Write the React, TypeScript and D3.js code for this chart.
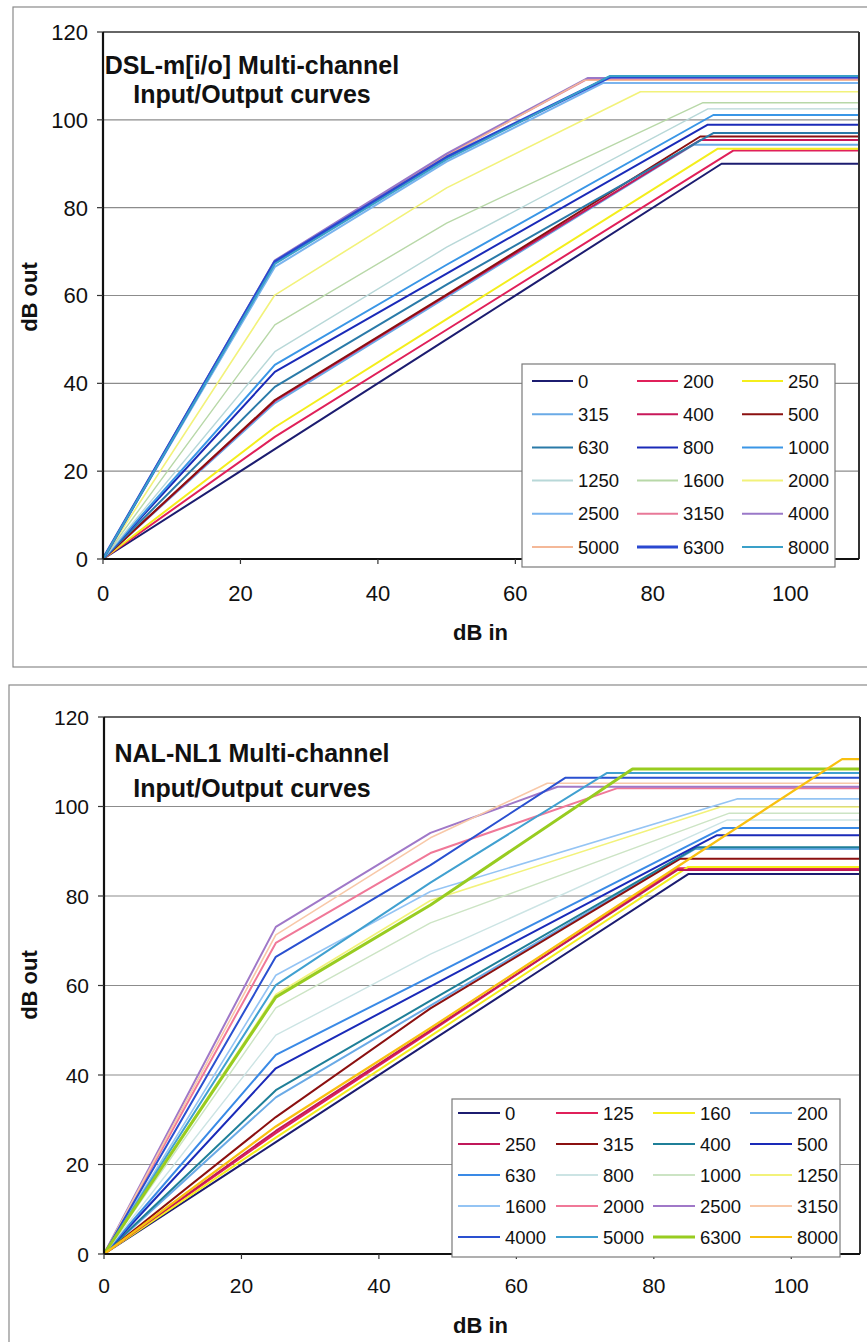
import React from 'react';
import * as d3 from 'd3';

// ---------- shared axis data ----------
const X_TICKS = [0, 20, 40, 60, 80, 100];
const Y_TICKS = [0, 20, 40, 60, 80, 100, 120];
const X_MAX = 110;
const Y_MAX = 120;

// ---------- DSL-m[i/o] ----------
const DSL_FREQS = ['0', '200', '250', '315', '400', '500', '630', '800', '1000', '1250', '1600', '2000', '2500', '3150', '4000', '5000', '6300', '8000'];
const DSL_KNEE_IN = 25;
const DSL_KNEE_OUT = [25, 27.8, 30, 35.5, 36, 36.2, 39.2, 42.6, 44.2, 47.2, 53.3, 60.1, 66.5, 67.8, 68, 67.5, 67.7, 67.2];
const DSL_MID_IN = 50;
const DSL_MID_OUT = [50, 52.2, 54.6, 59.6, 60, 60.2, 62.5, 65, 67, 71, 76.5, 84.5, 90.5, 92, 92.3, 91.8, 91.5, 91];
const DSL_SAT_IN = [90, 91.7, 89.4, 85.9, 86.9, 86.9, 88.8, 88, 88.8, 88, 87.3, 78.2, 72.8, 70.5, 70.5, 70, 73.8, 73.8];
const DSL_SAT_OUT = [90, 93.0, 93.4, 94.3, 95.4, 96.2, 97.0, 98.9, 101.1, 102.5, 103.9, 106.4, 108.4, 109.3, 109.5, 109.0, 109.8, 110.0];
const DSL_COLORS = ['#1c1c70', '#e0205a', '#f4ee1c', '#6aaae6', '#c8185a', '#8b1010', '#2a7aa8', '#1a2ab8', '#3a96e6', '#b8d8d8', '#b8d8a8', '#f2f27a', '#7ab4ee', '#e87898', '#9a78c8', '#f4b898', '#2a48d0', '#3aa0c8'];
const DSL_WIDTHS = [2, 2, 2, 2, 2, 2, 2, 2, 2, 1.4, 1.4, 1.6, 2, 2, 2, 1.5, 3, 2];

// ---------- NAL-NL1 ----------
const NAL_FREQS = ['0', '125', '160', '200', '250', '315', '400', '500', '630', '800', '1000', '1250', '1600', '2000', '2500', '3150', '4000', '5000', '6300', '8000'];
const NAL_KNEE_IN = 25;
const NAL_KNEE_OUT = [25, 27, 26, 35, 27.5, 30.6, 36.6, 41.5, 44.5, 48.9, 55, 58, 62.3, 69.5, 73.1, 71.3, 66.4, 60.1, 57.4, 28.5];
const NAL_MID_IN = 47.5;
const NAL_MID_OUT = [47.5, 49.7, 48.7, 55.5, 50, 54.9, 56.6, 59.8, 62, 67, 74, 79, 81, 89.6, 94.1, 93, 86.9, 83, 78, 50.5];
const NAL_SAT_IN = [85, 83.4, 85, 86, 83.4, 83.8, 86.3, 89.2, 90.1, 90.7, 91, 89.7, 92.1, 74.7, 66, 64.5, 67.1, 73.2, 76.9, 107.4];
const NAL_SAT_OUT = [84.9, 86.2, 86.5, 90.5, 85.8, 88.3, 90.9, 93.6, 95.2, 97, 98.5, 99.9, 101.7, 104.1, 104.4, 105.2, 106.4, 107.5, 108.4, 110.6];
const NAL_COLORS = ['#1c1c70', '#e0205a', '#f4ee1c', '#6aaae6', '#c0185a', '#8b1010', '#1f7f98', '#1a2ab8', '#3a8ae6', '#cce4e4', '#cce4c4', '#f2f27a', '#94c4f4', '#f07898', '#a078c8', '#f8c8a8', '#2a50d0', '#40a0d0', '#98cc20', '#f8c010'];
const NAL_WIDTHS = [2, 2, 2, 2, 2, 2, 2, 2, 2, 1.4, 1.4, 1.6, 1.6, 2, 2, 1.6, 2, 2, 3, 2.2];

const FONT = '"Liberation Sans", Arial, Helvetica, sans-serif';

type Cfg = {
  frame: [number, number, number, number];
  x0: number; x1: number; y0: number; y1: number;
  freqs: string[]; kneeIn: number; kneeOut: number[]; midIn: number; midOut: number[];
  satIn: number[]; satOut: number[]; colors: string[]; widths: number[];
  title1: string; title2: string; titleX: number; t1y: number; t2y: number;
  tickFont: number; xLabelY: number; xTitleY: number; yTitleY: number;
  legend: { x: number; y: number; w: number; h: number; cols: number; colX: number[]; row0: number; rowStep: number; lineLen: number; textOff: number };
};

function Chart({ c }: { c: Cfg }) {
  const x = d3.scaleLinear().domain([0, X_MAX]).range([c.x0, c.x1]);
  const y = d3.scaleLinear().domain([0, Y_MAX]).range([c.y0, c.y1]);
  const line = d3.line<[number, number]>().x(d => x(d[0])).y(d => y(d[1]));
  const series = c.freqs.map((f, i) => ({
    f,
    pts: [[0, 0], [c.kneeIn, c.kneeOut[i]], [c.midIn, c.midOut[i]], [c.satIn[i], c.satOut[i]], [X_MAX, c.satOut[i]]] as [number, number][],
  }));
  const L = c.legend;
  return (
    <g>
      <rect x={c.frame[0]} y={c.frame[1]} width={c.frame[2]} height={c.frame[3]} fill="none" stroke="#8a8a8a" strokeWidth={1.2} />
      {Y_TICKS.filter(t => t > 0 && t < Y_MAX).map(t => (
        <line key={'g' + t} x1={c.x0} x2={c.x1} y1={y(t)} y2={y(t)} stroke="#8c8c8c" strokeWidth={1.2} />
      ))}
      {series.map((s, i) => (
        <path key={s.f} d={line(s.pts) || ''} fill="none" stroke={c.colors[i]} strokeWidth={c.widths[i]} strokeLinejoin="round" />
      ))}
      <line x1={c.x0} x2={c.x1} y1={c.y1} y2={c.y1} stroke="#333" strokeWidth={1.6} />
      <line x1={c.x1} x2={c.x1} y1={c.y1} y2={c.y0} stroke="#333" strokeWidth={2} />
      <line x1={c.x0} x2={c.x0} y1={c.y1} y2={c.y0} stroke="#111" strokeWidth={2.2} />
      <line x1={c.x0} x2={c.x1} y1={c.y0} y2={c.y0} stroke="#111" strokeWidth={2.2} />
      {Y_TICKS.map(t => (
        <g key={'y' + t}>
          <line x1={c.x0 - 6} x2={c.x0} y1={y(t)} y2={y(t)} stroke="#333" strokeWidth={1.2} />
          <text x={c.x0 - 15} y={y(t)} dy="0.36em" textAnchor="end" fontFamily={FONT} fontSize={c.tickFont} fill="#111">{t}</text>
        </g>
      ))}
      {X_TICKS.map(t => (
        <g key={'x' + t}>
          <line x1={x(t)} x2={x(t)} y1={c.y0} y2={c.y0 + 5} stroke="#333" strokeWidth={1.2} />
          <text x={x(t)} y={c.xLabelY} textAnchor="middle" fontFamily={FONT} fontSize={c.tickFont} fill="#111">{t}</text>
        </g>
      ))}
      <text x={453} y={c.xTitleY} fontFamily={FONT} fontWeight="bold" fontSize={22} fill="#111">dB in</text>
      <text transform={`translate(37,${c.yTitleY}) rotate(-90)`} textAnchor="middle" fontFamily={FONT} fontWeight="bold" fontSize={22} fill="#111">dB out</text>
      <text x={c.titleX} y={c.t1y} textAnchor="middle" fontFamily={FONT} fontWeight="bold" fontSize={25} fill="#111">{c.title1}</text>
      <text x={c.titleX} y={c.t2y} textAnchor="middle" fontFamily={FONT} fontWeight="bold" fontSize={25} fill="#111">{c.title2}</text>
      <rect x={L.x} y={L.y} width={L.w} height={L.h} fill="#fff" stroke="#7a7a7a" strokeWidth={1.2} />
      {series.map((s, i) => {
        const col = i % L.cols;
        const row = Math.floor(i / L.cols);
        const lx = L.colX[col];
        const ly = L.row0 + row * L.rowStep;
        return (
          <g key={'l' + s.f}>
            <line x1={lx} x2={lx + L.lineLen} y1={ly} y2={ly} stroke={c.colors[i]} strokeWidth={Math.max(2, c.widths[i])} />
            <text x={lx + L.textOff} y={ly} dy="0.36em" fontFamily={FONT} fontSize={18.5} fill="#111">{s.f}</text>
          </g>
        );
      })}
    </g>
  );
}

const CHART1: Cfg = {
  frame: [13, 7, 900, 660],
  x0: 103, x1: 859, y0: 559, y1: 32,
  freqs: DSL_FREQS, kneeIn: DSL_KNEE_IN, kneeOut: DSL_KNEE_OUT, midIn: DSL_MID_IN, midOut: DSL_MID_OUT,
  satIn: DSL_SAT_IN, satOut: DSL_SAT_OUT, colors: DSL_COLORS, widths: DSL_WIDTHS,
  title1: 'DSL-m[i/o] Multi-channel', title2: 'Input/Output curves', titleX: 252, t1y: 74, t2y: 103,
  tickFont: 22, xLabelY: 601, xTitleY: 640, yTitleY: 297,
  legend: { x: 522, y: 364, w: 313, h: 203, cols: 3, colX: [532, 637, 742], row0: 381, rowStep: 33.2, lineLen: 41, textOff: 46 },
};

const CHART2: Cfg = {
  frame: [9, 685, 900, 700],
  x0: 104, x1: 860, y0: 1254, y1: 717,
  freqs: NAL_FREQS, kneeIn: NAL_KNEE_IN, kneeOut: NAL_KNEE_OUT, midIn: NAL_MID_IN, midOut: NAL_MID_OUT,
  satIn: NAL_SAT_IN, satOut: NAL_SAT_OUT, colors: NAL_COLORS, widths: NAL_WIDTHS,
  title1: 'NAL-NL1 Multi-channel', title2: 'Input/Output curves', titleX: 252, t1y: 762, t2y: 797,
  tickFont: 21, xLabelY: 1293, xTitleY: 1333, yTitleY: 985,
  legend: { x: 452, y: 1099, w: 388, h: 158, cols: 4, colX: [458, 556, 653, 750], row0: 1113, rowStep: 31, lineLen: 42, textOff: 47 },
};

export default function App() {
  return (
    <svg width={867} height={1342} viewBox="0 0 867 1342" style={{ position: 'absolute', left: 0, top: 0, background: '#fff' }}>
      <rect x={0} y={0} width={867} height={1342} fill="#fff" />
      <Chart c={CHART1} />
      <Chart c={CHART2} />
    </svg>
  );
}
